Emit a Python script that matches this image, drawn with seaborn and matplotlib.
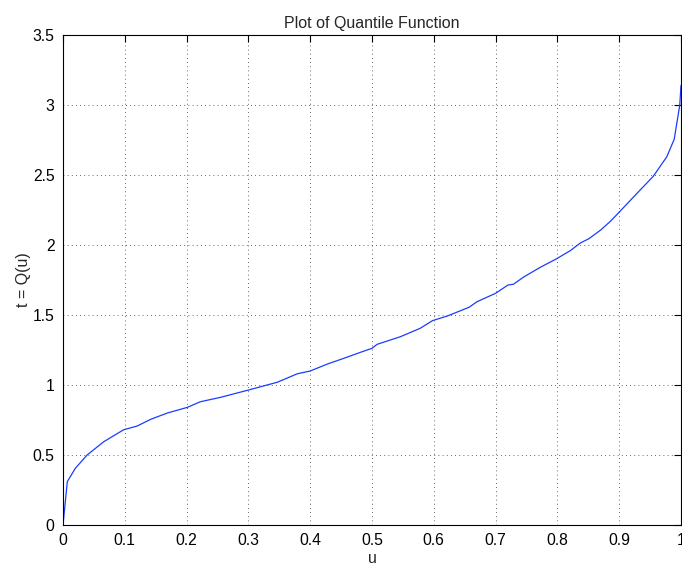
import matplotlib
matplotlib.use("Agg")
import matplotlib.pyplot as plt
import seaborn as sns
import pandas as pd

# Data
u_vals = [0, 0.007, 0.02, 0.039, 0.066, 0.098, 0.12, 0.142, 0.169, 0.201, 0.222, 0.255,
          0.3, 0.347, 0.363, 0.379, 0.40, 0.428, 0.454, 0.481, 0.5, 0.508, 0.546, 0.578,
          0.598, 0.622, 0.657, 0.67, 0.70, 0.72, 0.729, 0.745, 0.772, 0.798, 0.821, 0.837,
          0.851, 0.87, 0.886, 0.899, 0.929, 0.955, 0.977, 0.989, 0.998, 1.0]
q_vals = [0, 0.31, 0.405, 0.50, 0.595, 0.68, 0.707, 0.755, 0.80, 0.84, 0.88, 0.912,
          0.964, 1.02, 1.05, 1.08, 1.10, 1.15, 1.19, 1.233, 1.262, 1.29, 1.345, 1.405,
          1.46, 1.493, 1.555, 1.595, 1.655, 1.714, 1.72, 1.77, 1.84, 1.90, 1.96, 2.014,
          2.045, 2.107, 2.17, 2.23, 2.37, 2.49, 2.63, 2.755, 3.0, 3.14]
x_ticks = [0, 0.1, 0.2, 0.3, 0.4, 0.5, 0.6, 0.7, 0.8, 0.9, 1]
x_tick_labels = ["0", "0.1", "0.2", "0.3", "0.4", "0.5", "0.6", "0.7", "0.8", "0.9", "1"]
y_ticks = [0, 0.5, 1, 1.5, 2, 2.5, 3, 3.5]
y_tick_labels = ["0", "0.5", "1", "1.5", "2", "2.5", "3", "3.5"]
title = "Plot of Quantile Function"
x_label = "u"
y_label = "t = Q(u)"

sns.set_style("white")
plt.rcParams["font.family"] = ["Liberation Sans", "DejaVu Sans"]

df = pd.DataFrame({"u": u_vals, "Q": q_vals})

fig = plt.figure(figsize=(6.82, 5.65), dpi=100)
ax = fig.add_axes([63 / 682, 40 / 565, 618 / 682, 490 / 565])

sns.lineplot(data=df, x="u", y="Q", ax=ax, sort=False, estimator=None,
             color="#1a3cff", linewidth=0.9)

ax.set_xlim(0, 1)
ax.set_ylim(0, 3.5)
ax.set_xticks(x_ticks)
ax.set_xticklabels(x_tick_labels)
ax.set_yticks(y_ticks)
ax.set_yticklabels(y_tick_labels)

ax.grid(True, which="major", linestyle=(0, (1, 4)), color="#333333", linewidth=0.6)
ax.tick_params(direction="in", length=5, width=0.8, top=True, right=True,
               labelsize=11.3, pad=6, colors="black")
for s in ax.spines.values():
    s.set_visible(True)
    s.set_color("black")
    s.set_linewidth(0.8)

ax.set_title(title, fontsize=11.5, pad=5)
ax.set_xlabel(x_label, fontsize=11.5, labelpad=2)
ax.set_ylabel(y_label, fontsize=11.5, labelpad=1)

fig.savefig("out.png", dpi=100)
